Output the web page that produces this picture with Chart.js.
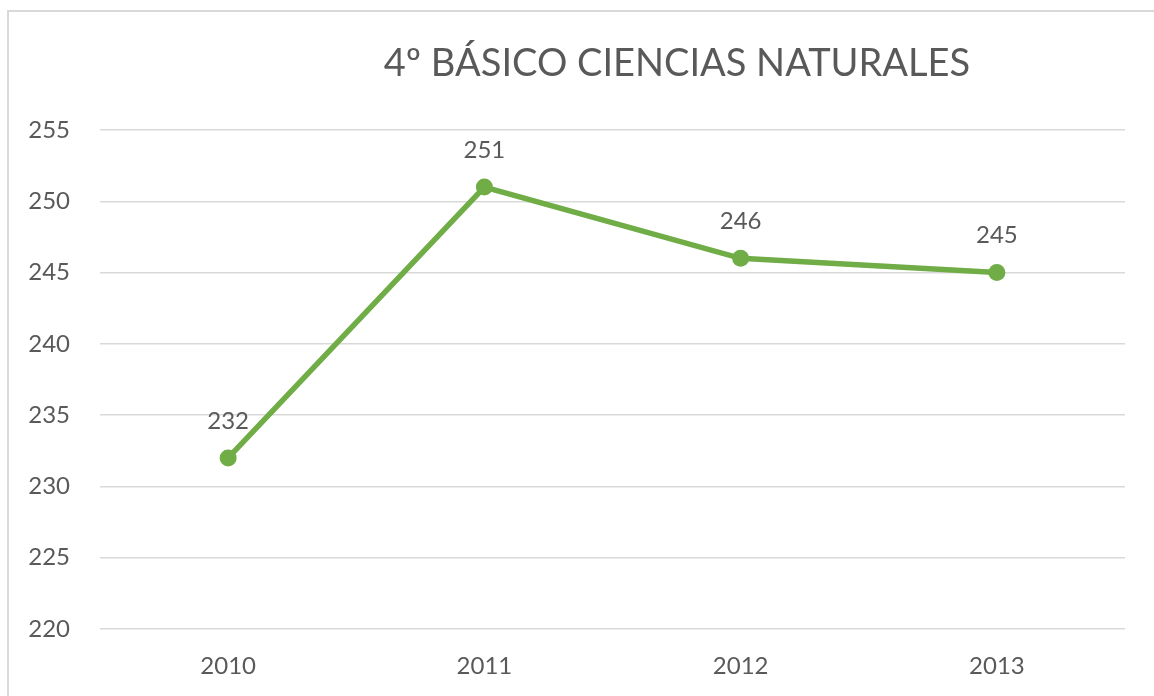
<!DOCTYPE html>
<html>
<head>
<meta charset="utf-8">
<script src="https://cdn.jsdelivr.net/npm/chart.js@4/dist/chart.umd.min.js"></script>
<style>
  html, body { margin: 0; padding: 0; background: #fff; overflow: hidden; }
  #frame { position: absolute; left: 7px; top: 10px; width: 1200px; height: 800px;
           border-left: 2px solid #d9d9d9; border-top: 2px solid #d9d9d9; }
  #chart { position: absolute; left: 0; top: 0; }
</style>
</head>
<body>
<div id="frame"></div>
<canvas id="chart" width="1154" height="696"></canvas>
<script>
// datos del gráfico
const years = ["2010", "2011", "2012", "2013"];
const scores = [232, 251, 246, 245];
const titleText = "4º BÁSICO CIENCIAS NATURALES";

const FONT = "Lato, 'Open Sans', sans-serif";
const GREY = "#595959";

// título dibujado a mano (está desplazado respecto al centro)
const titlePlugin = {
  id: "manualTitle",
  afterDraw(chart) {
    const ctx = chart.ctx;
    ctx.save();
    ctx.font = "38px " + FONT;
    ctx.fillStyle = GREY;
    ctx.textAlign = "center";
    ctx.textBaseline = "middle";
    ctx.fillText(titleText, 677, 64);
    ctx.restore();
  }
};

// etiquetas de valores encima de cada punto
const labelPlugin = {
  id: "valueLabels",
  afterDatasetsDraw(chart) {
    const ctx = chart.ctx;
    const meta = chart.getDatasetMeta(0);
    ctx.save();
    ctx.font = "24px " + FONT;
    ctx.fillStyle = GREY;
    ctx.textAlign = "center";
    ctx.textBaseline = "middle";
    meta.data.forEach((pt, i) => {
      ctx.fillText(String(scores[i]), pt.x, pt.y - 37);
    });
    ctx.restore();
  }
};

new Chart(document.getElementById("chart").getContext("2d"), {
  type: "line",
  data: {
    labels: years,
    datasets: [{
      data: scores,
      borderColor: "#70ad47",
      backgroundColor: "#70ad47",
      borderWidth: 5.5,
      pointRadius: 8.5,
      pointHoverRadius: 8.5,
      pointBorderWidth: 0,
      tension: 0,
    }],
  },
  options: {
    responsive: false,
    animation: false,
    layout: { padding: { top: 130, right: 29, left: 0, bottom: 0 } },
    plugins: {
      legend: { display: false },
      title: { display: false },
      tooltip: { enabled: false },
    },
    scales: {
      x: {
        offset: true,
        grid: { display: false },
        border: { display: false },
        ticks: { color: GREY, font: { family: FONT, size: 24 }, padding: 15 },
        afterFit(scale) { scale.height = 67; },
      },
      y: {
        min: 220,
        max: 255,
        grid: { color: "#d9d9d9", lineWidth: 1.5, drawTicks: false },
        border: { display: false },
        ticks: { stepSize: 5, color: GREY, font: { family: FONT, size: 24 }, padding: 30 },
        afterFit(scale) { scale.width = 100; },
      },
    },
  },
  plugins: [titlePlugin, labelPlugin],
});
</script>
</body>
</html>
